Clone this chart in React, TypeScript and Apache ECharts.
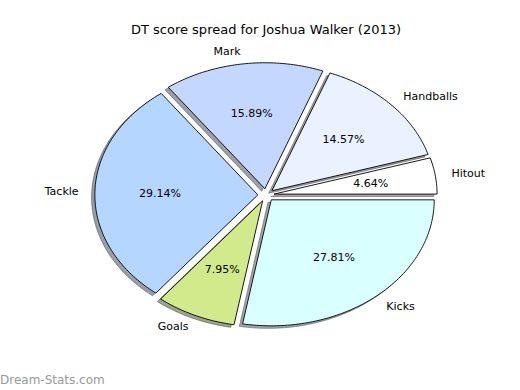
import React, { useEffect, useRef } from "react";
import * as echarts from "echarts";

const TITLE = "DT score spread for Joshua Walker (2013)";
const WATERMARK = "Dream-Stats.com";
const categories = ["Hitout", "Handballs", "Mark", "Tackle", "Goals", "Kicks"];
const values = [4.64, 14.57, 15.89, 29.14, 7.95, 27.81];
const colors = ["#ffffff", "#eaf1ff", "#c4d8ff", "#b4d6ff", "#d0ea8c", "#d9ffff"];

const CX = 266;
const CY = 195;
const RX = 163;
const RY = 126;
const EXPLODE = 0.05;
const FONT = "DejaVu Sans";

function shadowColor(hex: string) {
  const r = parseInt(hex.slice(1, 3), 16);
  const g = parseInt(hex.slice(3, 5), 16);
  const b = parseInt(hex.slice(5, 7), 16);
  return `rgba(${Math.round(r * 0.3)},${Math.round(g * 0.3)},${Math.round(b * 0.3)},0.5)`;
}

export default function App() {
  const ref = useRef<HTMLDivElement>(null);
  useEffect(() => {
    if (!ref.current) return;
    const chart = echarts.init(ref.current, undefined, { renderer: "svg" });
    const total = values.reduce((a, b) => a + b, 0);
    const starts: number[] = [];
    let acc = 0;
    values.forEach((v) => {
      starts.push(acc);
      acc += v;
    });

    const renderItem = (params: any, api: any) => {
      const i = params.dataIndex;
      const v = api.value(1);
      const a0 = (starts[i] / total) * Math.PI * 2;
      const a1 = a0 + (v / total) * Math.PI * 2;
      const m = (a0 + a1) / 2;
      const wx = CX + EXPLODE * RX * Math.cos(m);
      const wy = CY - EXPLODE * RY * Math.sin(m);
      const pts: number[][] = [[wx, wy]];
      const steps = Math.max(4, Math.ceil(((a1 - a0) * 180) / Math.PI));
      for (let k = 0; k <= steps; k++) {
        const a = a0 + ((a1 - a0) * k) / steps;
        pts.push([wx + RX * Math.cos(a), wy - RY * Math.sin(a)]);
      }
      const sdx = -0.02 * RX;
      const sdy = 0.02 * RY;
      const spts = pts.map((p) => [p[0] + sdx, p[1] + sdy]);
      const pct = (v / total) * 100;
      const px = wx + 0.6 * RX * Math.cos(m);
      const py = wy - 0.6 * RY * Math.sin(m);
      const lx = wx + 1.1 * RX * Math.cos(m);
      const ly = wy - 1.1 * RY * Math.sin(m);
      const col = colors[i % colors.length];
      return {
        type: "group",
        children: [
          {
            type: "polygon",
            z2: 1,
            shape: { points: spts },
            style: { fill: shadowColor(col), stroke: shadowColor(col), lineWidth: 1 },
            silent: true,
          },
          {
            type: "polygon",
            z2: 10,
            shape: { points: pts },
            style: { fill: col, stroke: "#000000", lineWidth: 0.9 },
          },
          {
            type: "text",
            z2: 20,
            x: px,
            y: py,
            style: {
              text: pct.toFixed(2) + "%",
              fill: "#000",
              font: `11px '${FONT}'`,
              align: "center",
              verticalAlign: "middle",
            },
          },
          {
            type: "text",
            z2: 20,
            x: lx,
            y: ly,
            style: {
              text: categories[i],
              fill: "#000",
              font: `11px '${FONT}'`,
              align: Math.cos(m) > 0 ? "left" : "right",
              verticalAlign: "middle",
            },
          },
        ],
      };
    };

    chart.setOption({
      animation: false,
      backgroundColor: "#ffffff",
      graphic: [
        {
          type: "text",
          x: CX,
          y: 29,
          style: {
            text: TITLE,
            fill: "#000",
            font: `13px '${FONT}'`,
            align: "center",
            verticalAlign: "middle",
          },
        },
        {
          type: "text",
          x: 0,
          y: 380,
          style: {
            text: WATERMARK,
            fill: "#9a9a9a",
            font: `12px '${FONT}'`,
            align: "left",
            verticalAlign: "middle",
          },
        },
      ],
      series: [
        {
          type: "custom",
          coordinateSystem: "none",
          renderItem,
          data: values.map((v, i) => [i, v]),
        },
      ],
    });
    return () => chart.dispose();
  }, []);
  return (
    <div
      ref={ref}
      style={{ position: "fixed", left: 0, top: 0, width: 520, height: 390 }}
    />
  );
}
